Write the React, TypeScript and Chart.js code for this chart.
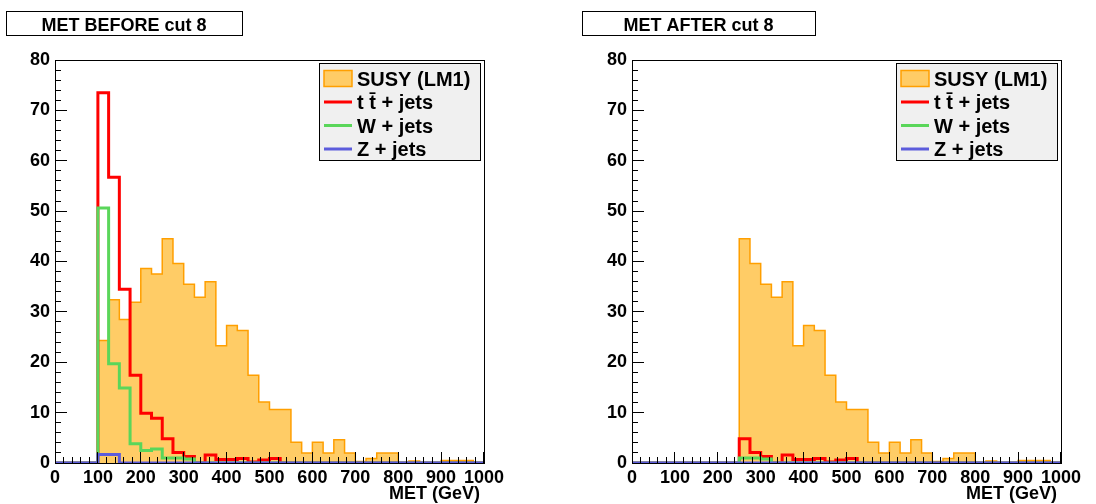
import React, { useEffect, useRef } from 'react';
import { Chart, registerables } from 'chart.js';

Chart.register(...registerables);

// ---- data ----
const binEdges = [
  0, 25, 50, 75, 100, 125, 150, 175, 200, 225, 250, 275, 300, 325, 350, 375, 400, 425, 450, 475,
  500, 525, 550, 575, 600, 625, 650, 675, 700, 725, 750, 775, 800, 825, 850, 875, 900, 925, 950, 975, 1000,
];
const xTickLabels = [0, 100, 200, 300, 400, 500, 600, 700, 800, 900, 1000];
const yTickLabels = [0, 10, 20, 30, 40, 50, 60, 70, 80];
const xMinorTicks = [
  0, 20, 40, 60, 80, 100, 120, 140, 160, 180, 200, 220, 240, 260, 280, 300, 320, 340, 360, 380, 400,
  420, 440, 460, 480, 500, 520, 540, 560, 580, 600, 620, 640, 660, 680, 700, 720, 740, 760, 780, 800,
  820, 840, 860, 880, 900, 920, 940, 960, 980, 1000,
];
const yMinorTicks = [
  0, 2, 4, 6, 8, 10, 12, 14, 16, 18, 20, 22, 24, 26, 28, 30, 32, 34, 36, 38, 40,
  42, 44, 46, 48, 50, 52, 54, 56, 58, 60, 62, 64, 66, 68, 70, 72, 74, 76, 78, 80,
];
const seriesLabels = ['SUSY (LM1)', 't t\u0304 + jets', 'W + jets', 'Z + jets'];
const panelTitles = ['MET BEFORE cut 8', 'MET AFTER cut 8'];
const xAxisTitle = 'MET (GeV)';

const susyBefore = [
  0, 0, 0, 0, 24.3, 32.4, 28.5, 31.9, 38.6, 37.5, 44.5, 39.6, 35.5, 32.9, 36.0, 23.3, 27.3, 26.3, 17.4, 12.1,
  10.6, 10.6, 4.1, 2.0, 4.1, 2.0, 4.6, 2.0, 0.3, 0.9, 2.0, 2.0, 0, 0.4, 0, 0, 0.5, 0.5, 0.5, 0,
];
const ttbarBefore = [
  0, 0, 0, 0, 73.5, 56.7, 34.5, 17.4, 9.9, 8.9, 4.8, 2.1, 1.3, 0, 1.6, 0.7, 0.7, 0.9, 0.2, 0.6,
  0.9, 0, 0, 0, 0, 0, 0, 0, 0, 0, 0, 0, 0, 0, 0, 0, 0, 0, 0, 0,
];
const wjetsBefore = [
  0, 0, 0, 0, 50.6, 19.7, 14.9, 3.8, 2.5, 2.8, 1.0, 1.0, 0.8, 0, 0, 0, 0, 0, 0, 0,
  0, 0, 0, 0, 0, 0, 0, 0, 0, 0, 0, 0, 0, 0, 0, 0, 0, 0, 0, 0,
];
const zjetsBefore = [
  0, 0, 0, 0, 1.7, 1.7, 0, 0, 0, 0, 0, 0, 0, 0, 0, 0, 0, 0, 0, 0,
  0, 0, 0, 0, 0, 0, 0, 0, 0, 0, 0, 0, 0, 0, 0, 0, 0, 0, 0, 0,
];

const susyAfter = [
  0, 0, 0, 0, 0, 0, 0, 0, 0, 0, 44.5, 39.6, 35.5, 32.9, 36.0, 23.3, 27.3, 26.3, 17.4, 12.1,
  10.6, 10.6, 4.1, 2.0, 4.1, 2.0, 4.6, 2.0, 0.3, 0.9, 2.0, 2.0, 0, 0.4, 0, 0, 0.5, 0.5, 0.5, 0,
];
const ttbarAfter = [
  0, 0, 0, 0, 0, 0, 0, 0, 0, 0, 4.8, 2.1, 1.3, 0, 1.6, 0.7, 0.7, 0.9, 0.2, 0.6,
  0.9, 0, 0, 0, 0, 0, 0, 0, 0, 0, 0, 0, 0, 0, 0, 0, 0, 0, 0, 0,
];
const wjetsAfter = [
  0, 0, 0, 0, 0, 0, 0, 0, 0, 0, 1.0, 1.0, 0.8, 0, 0, 0, 0, 0, 0, 0,
  0, 0, 0, 0, 0, 0, 0, 0, 0, 0, 0, 0, 0, 0, 0, 0, 0, 0, 0, 0,
];
const zjetsAfter = [
  0, 0, 0, 0, 0, 0, 0, 0, 0, 0, 0, 0, 0, 0, 0, 0, 0, 0, 0, 0,
  0, 0, 0, 0, 0, 0, 0, 0, 0, 0, 0, 0, 0, 0, 0, 0, 0, 0, 0, 0,
];

// ---- styles ----
const FONT = '"Liberation Sans", Arial, Helvetica, sans-serif';
const SUSY_FILL = '#ffcc66';
const SUSY_LINE = '#ff9f00';
const RED = '#ff0000';
const GREEN = '#5ad65a';
const BLUE = '#5c5cdc';

function toSteps(values: number[]) {
  return binEdges.map((e, i) => ({ x: e, y: values[Math.min(i, values.length - 1)] }));
}

const framePlugin = {
  id: 'rootFrame',
  beforeDatasetsDraw(chart: any) {
    const { ctx, chartArea } = chart;
    const { left, right, top, bottom } = chartArea;
    ctx.save();
    ctx.strokeStyle = '#000';
    ctx.lineWidth = 1;
    ctx.strokeRect(Math.round(left) + 0.5, Math.round(top) + 0.5, Math.round(right - left), Math.round(bottom - top));
    ctx.restore();
  },
};

const decorPlugin = {
  id: 'rootDecor',
  afterDraw(chart: any) {
    const { ctx, chartArea } = chart;
    const { right, top } = chartArea;
    const opts = chart.options.plugins.rootDecor || {};
    ctx.save();
    ctx.fillStyle = '#000';
    ctx.font = `bold 18px ${FONT}`;
    ctx.textAlign = 'right';
    ctx.textBaseline = 'alphabetic';
    ctx.fillText(xAxisTitle, right - 4, 499);

    const lx = Math.round(right - 165);
    const ly = Math.round(top + 3);
    const lw = 161;
    const lh = 97;
    ctx.fillStyle = '#f0f0f0';
    ctx.fillRect(lx, ly, lw, lh);
    ctx.strokeStyle = '#000';
    ctx.lineWidth = 1;
    ctx.strokeRect(lx + 0.5, ly + 0.5, lw, lh);
    const ds = chart.data.datasets;
    const centers = [15.5, 39, 62.5, 86];
    [0, 1, 2, 3].forEach((di, k) => {
      const d = ds.find((q: any) => q.legendIndex === di);
      const cy = ly + centers[k];
      if (d.fill) {
        ctx.fillStyle = d.backgroundColor;
        ctx.fillRect(lx + 5, cy - 8, 28, 16);
        ctx.strokeStyle = d.borderColor;
        ctx.lineWidth = 1.5;
        ctx.strokeRect(lx + 5, cy - 8, 28, 16);
      } else {
        ctx.strokeStyle = d.borderColor;
        ctx.lineWidth = 3;
        ctx.beginPath();
        ctx.moveTo(lx + 5, cy);
        ctx.lineTo(lx + 33, cy);
        ctx.stroke();
      }
      ctx.fillStyle = '#000';
      ctx.font = `bold 20px ${FONT}`;
      ctx.textAlign = 'left';
      ctx.textBaseline = 'alphabetic';
      ctx.fillText(d.label, lx + 38, cy + 7);
    });

    ctx.fillStyle = '#fff';
    ctx.fillRect(opts.boxX, 11, opts.boxW, 25);
    ctx.strokeStyle = '#000';
    ctx.lineWidth = 1;
    ctx.strokeRect(opts.boxX + 0.5, 11.5, opts.boxW, 24);
    ctx.fillStyle = '#000';
    ctx.font = `bold 18px ${FONT}`;
    ctx.textAlign = 'center';
    ctx.textBaseline = 'alphabetic';
    ctx.fillText(opts.title, opts.boxX + opts.boxW / 2, 31);
    ctx.restore();
  },
};

const tickFont = { family: FONT, size: 18, weight: 'bold' };

function Panel(props: { title: string; series: number[][]; left: number; boxX: number; boxW: number }) {
  const ref = useRef<HTMLCanvasElement>(null);
  useEffect(() => {
    if (!ref.current) return;
    const [susy, tt, w, z] = props.series;
    const common = { stepped: 'before', pointRadius: 0, xAxisID: 'x', yAxisID: 'y' };
    const chart = new Chart(ref.current, {
      type: 'line',
      data: {
        datasets: [
          {
            ...common, label: seriesLabels[0], legendIndex: 0, data: toSteps(susy), fill: 'origin',
            backgroundColor: SUSY_FILL, borderColor: SUSY_LINE, borderWidth: 1.5, order: 3,
          } as any,
          {
            ...common, label: seriesLabels[1], legendIndex: 1, data: toSteps(tt), fill: false,
            borderColor: RED, borderWidth: 3, order: 2,
          } as any,
          {
            ...common, label: seriesLabels[2], legendIndex: 2, data: toSteps(w), fill: false,
            borderColor: GREEN, borderWidth: 3, order: 1,
          } as any,
          {
            ...common, label: seriesLabels[3], legendIndex: 3, data: toSteps(z), fill: false,
            borderColor: BLUE, borderWidth: 3, order: 0,
          } as any,
        ],
      },
      options: {
        responsive: false,
        animation: false,
        events: [],
        layout: { padding: { left: 0, right: 21, top: 60, bottom: 0 } },
        plugins: {
          legend: { display: false },
          tooltip: { enabled: false },
          title: { display: false },
          rootDecor: { title: props.title, boxX: props.boxX, boxW: props.boxW },
        } as any,
        scales: {
          // major x ticks + labels (ticks drawn inward, ROOT style)
          x: {
            type: 'linear',
            position: 'bottom',
            weight: 0,
            min: 0,
            max: 1000,
            grid: { display: true, drawOnChartArea: false, drawTicks: true, tickLength: -11, tickColor: '#000', tickWidth: 1, z: 1 },
            border: { display: false },
            afterBuildTicks: (s: any) => { s.ticks = xTickLabels.map((v) => ({ value: v })); },
            afterFit: (s: any) => { s.height = 41; },
            ticks: {
              padding: 15, maxRotation: 0, autoSkip: false, color: '#000',
              font: tickFont,
              callback: (v: any) => String(v),
            },
          },
          // minor x ticks
          x2: {
            type: 'linear',
            position: 'bottom',
            weight: -1,
            min: 0,
            max: 1000,
            grid: { display: true, drawOnChartArea: false, drawTicks: true, tickLength: -6, tickColor: '#000', tickWidth: 1, z: 1 },
            border: { display: false },
            afterBuildTicks: (s: any) => { s.ticks = xMinorTicks.map((v) => ({ value: v })); },
            afterFit: (s: any) => { s.height = 0; },
            ticks: { display: false, autoSkip: false },
          },
          // major y ticks + labels
          y: {
            type: 'linear',
            position: 'left',
            weight: 0,
            min: 0,
            max: 80,
            grid: { display: true, drawOnChartArea: false, drawTicks: true, tickLength: -12, tickColor: '#000', tickWidth: 1, z: 1 },
            border: { display: false },
            afterBuildTicks: (s: any) => { s.ticks = yTickLabels.map((v) => ({ value: v })); },
            afterFit: (s: any) => { s.width = 55; },
            ticks: {
              padding: 17, autoSkip: false, color: '#000',
              font: tickFont,
              callback: (v: any) => String(v),
            },
          },
          // minor y ticks
          y2: {
            type: 'linear',
            position: 'left',
            weight: -1,
            min: 0,
            max: 80,
            grid: { display: true, drawOnChartArea: false, drawTicks: true, tickLength: -6, tickColor: '#000', tickWidth: 1, z: 1 },
            border: { display: false },
            afterBuildTicks: (s: any) => { s.ticks = yMinorTicks.map((v) => ({ value: v })); },
            afterFit: (s: any) => { s.width = 0; },
            ticks: { display: false, autoSkip: false },
          },
        },
      } as any,
      plugins: [framePlugin, decorPlugin],
    });
    return () => chart.destroy();
  }, []);
  return (
    <canvas
      ref={ref}
      width={519}
      height={504}
      style={{ position: 'absolute', left: props.left, top: 0, width: 519, height: 504 }}
    />
  );
}

export default function App() {
  return (
    <div style={{ position: 'fixed', left: 0, top: 0, width: 1096, height: 504, background: '#fff', overflow: 'hidden' }}>
      <Panel title={panelTitles[0]} series={[susyBefore, ttbarBefore, wjetsBefore, zjetsBefore]} left={0} boxX={6} boxW={236} />
      <Panel title={panelTitles[1]} series={[susyAfter, ttbarAfter, wjetsAfter, zjetsAfter]} left={577} boxX={5} boxW={233} />
    </div>
  );
}
